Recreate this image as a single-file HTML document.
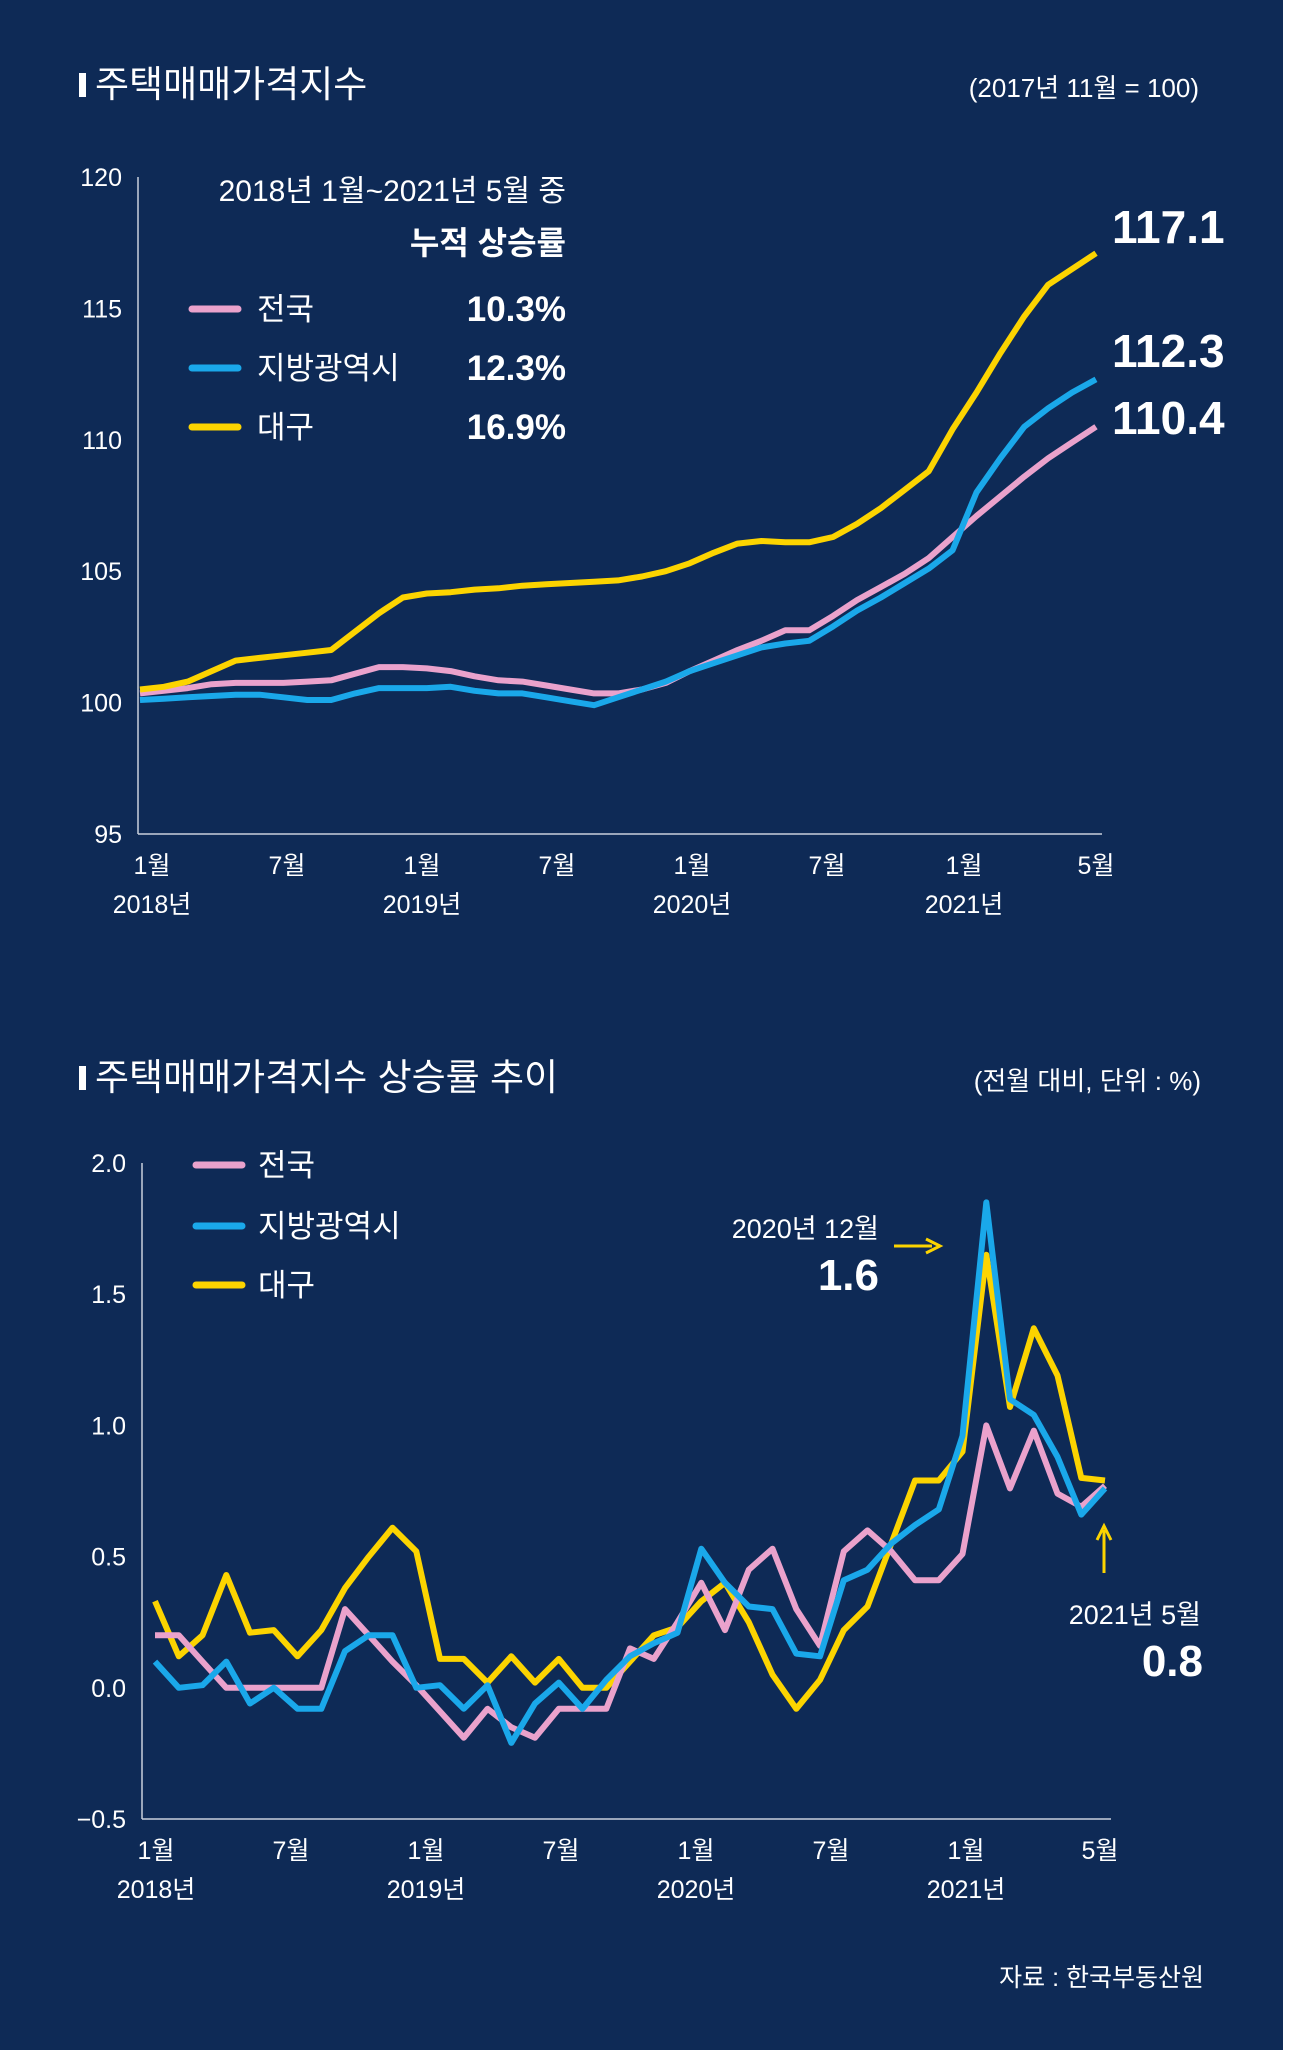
<!DOCTYPE html>
<html><head><meta charset="utf-8">
<style>
body{margin:0;background:#fff;width:1289px;height:2054px;overflow:hidden;font-family:"Liberation Sans","Noto Sans CJK KR",sans-serif;}
#bg{position:absolute;left:0;top:0;width:1283px;height:2050px;background:#0e2a56;}
svg{position:absolute;left:0;top:0;}
.nar{font-family:"Liberation Sans Narrow","Liberation Sans",sans-serif;}
</style></head>
<body>
<div id="bg"></div>
<svg id="c" width="1289" height="2054" font-family="Liberation Sans, Noto Sans CJK KR, sans-serif"></svg>
<script>
const months=41;
const topTicks=[95,100,105,110,115,120];
const topNational=[100.35,100.45,100.55,100.7,100.75,100.75,100.75,100.8,100.85,101.1,101.35,101.35,101.3,101.2,101.0,100.85,100.8,100.65,100.5,100.35,100.35,100.5,100.75,101.2,101.6,102.0,102.35,102.75,102.75,103.3,103.9,104.4,104.9,105.5,106.3,107.1,107.85,108.6,109.3,109.9,110.5];
const topMetro=[100.1,100.15,100.2,100.25,100.3,100.3,100.2,100.1,100.1,100.35,100.55,100.55,100.55,100.6,100.45,100.35,100.35,100.2,100.05,99.9,100.2,100.5,100.8,101.2,101.5,101.8,102.1,102.25,102.35,102.9,103.5,104.0,104.55,105.1,105.8,108.0,109.3,110.5,111.2,111.8,112.3];
const topDaegu=[100.5,100.6,100.8,101.2,101.6,101.7,101.8,101.9,102.0,102.7,103.4,104.0,104.15,104.2,104.3,104.35,104.45,104.5,104.55,104.6,104.65,104.8,105.0,105.3,105.7,106.05,106.15,106.1,106.1,106.3,106.8,107.4,108.1,108.8,110.4,111.8,113.3,114.7,115.9,116.5,117.1];
const botTicks=[-0.5,0.0,0.5,1.0,1.5,2.0];
const botNational=[0.2,0.2,0.1,0,0,0,0,0,0.3,0.2,0.1,0.01,-0.09,-0.19,-0.08,-0.15,-0.19,-0.08,-0.08,-0.08,0.15,0.11,0.25,0.4,0.22,0.45,0.53,0.3,0.16,0.52,0.6,0.52,0.41,0.41,0.51,1.0,0.76,0.98,0.74,0.69,0.77];
const botMetro=[0.1,0,0.01,0.1,-0.06,0,-0.08,-0.08,0.14,0.2,0.2,0.0,0.01,-0.08,0.01,-0.21,-0.06,0.02,-0.08,0.03,0.12,0.17,0.21,0.53,0.4,0.31,0.3,0.13,0.12,0.41,0.45,0.55,0.62,0.68,0.96,1.85,1.1,1.04,0.88,0.66,0.76];
const botDaegu=[0.33,0.12,0.2,0.43,0.21,0.22,0.12,0.22,0.38,0.5,0.61,0.52,0.11,0.11,0.02,0.12,0.02,0.11,0.0,0.0,0.1,0.2,0.23,0.33,0.4,0.25,0.05,-0.08,0.03,0.22,0.31,0.55,0.79,0.79,0.9,1.65,1.07,1.37,1.19,0.8,0.79];
const xMonthLabels=["1월","7월","1월","7월","1월","7월","1월","5월"];
const xYearLabels=["2018년","","2019년","","2020년","","2021년",""];
const xLabelMonths=[0,6,12,18,24,30,36,40];

const svg=document.getElementById('c');
const NS="http://www.w3.org/2000/svg";
function mk(tag,attrs,parent){const e=document.createElementNS(NS,tag);for(const k in attrs)e.setAttribute(k,attrs[k]);(parent||svg).appendChild(e);return e;}
function txt(x,y,s,size,anchor,weight,fill,name,cls){const t=mk('text',{x:x,y:y,'font-size':size,'text-anchor':anchor||'start','font-weight':weight||'normal',fill:fill||'#fff'});if(cls)t.setAttribute('class',cls);t.textContent=s;


return t;}

function chart(o){
 const xs=m=>o.x0+(o.x1-o.x0)*m/(months-1);
 const ys=v=>o.yTop+(o.yBot-o.yTop)*(o.vMax-v)/(o.vMax-o.vMin);
 const ax=mk('line',{x1:o.ax,y1:o.yTop,x2:o.ax,y2:o.yBot,stroke:'#c8cfdc','stroke-width':1.5});
 
 
 const bx=mk('line',{x1:o.ax,y1:o.yBot,x2:o.x1+6,y2:o.yBot,stroke:'#c8cfdc','stroke-width':1.5});
 
 
 o.ticks.forEach(v=>{txt(o.ax-16,ys(v)+9,o.fmt(v),25,'end','normal','#fff',o.p+'-y-tick');});
 xLabelMonths.forEach((m,i)=>{const x=o.lx[i];
  txt(x,o.yBot+40,xMonthLabels[i],25,'middle','normal','#fff',o.p+'-x-tick');
  if(xYearLabels[i])txt(x,o.yBot+79,xYearLabels[i],25,'middle','normal','#fff',o.p+'-x-year');});
 o.series.forEach(s=>{const d=s.v.map((v,i)=>(i?'L':'M')+xs(i).toFixed(1)+' '+ys(v).toFixed(1)).join(' ');
  const p=mk('path',{d:d,fill:'none',stroke:s.c,'stroke-width':6,'stroke-linejoin':'round'});
  
  });
 return {xs,ys};
}
const cols={nat:'#eaa2cc',met:'#1aa8ea',dae:'#fcd400'};
chart({p:'top',ax:138,x0:140,x1:1096,yTop:177,yBot:834,vMin:95,vMax:120,ticks:topTicks,fmt:v=>String(v),
 lx:[152,287,422,557,692,827,964,1096],
 series:[{n:'national',v:topNational,c:cols.nat},{n:'metro',v:topMetro,c:cols.met},{n:'daegu',v:topDaegu,c:cols.dae}]});
chart({p:'bottom',ax:142,x0:155,x1:1105,yTop:1163,yBot:1819,vMin:-0.5,vMax:2.0,ticks:botTicks,fmt:v=>v<0?'−'+Math.abs(v).toFixed(1):v.toFixed(1),
 lx:[156,291,426,561,696,831,966,1100],
 series:[{n:'daegu',v:botDaegu,c:cols.dae},{n:'national',v:botNational,c:cols.nat},{n:'metro',v:botMetro,c:cols.met}]});

function bar(x,y,name){const r=mk('rect',{x:x,y:y,width:7,height:24,fill:'#fff'});}
bar(79,73,'title-marker');
txt(95,97,'주택매매가격지수',37,'start','normal','#fff','top-title');
txt(1199,97,'(2017년 11월 = 100)',26,'end','normal','#fff','top-unit');
bar(79,1066,'title-marker-2');
txt(95,1090,'주택매매가격지수 상승률 추이',37,'start','normal','#fff','bottom-title');
txt(1201,1090,'(전월 대비, 단위 : %)',26,'end','normal','#fff','bottom-unit');
txt(566,201,'2018년 1월~2021년 5월 중',30,'end','normal','#fff','legend-caption');
txt(566,254,'누적 상승률',32,'end','bold','#fff','legend-header');
const lg=[['전국','10.3%',cols.nat,309],['지방광역시','12.3%',cols.met,368],['대구','16.9%',cols.dae,427]];
lg.forEach(l=>{const s=mk('line',{x1:192,y1:l[3],x2:238,y2:l[3],stroke:l[2],'stroke-width':7,'stroke-linecap':'round'});
 
 
 txt(257,l[3]+11,l[0],31,'start','normal','#fff','legend-label');
 txt(566,l[3]+12,l[1],35,'end','bold','#fff','legend-value','nar');});
txt(1112,243,'117.1',46,'start','bold','#fff','end-label-daegu','nar');
txt(1112,367,'112.3',46,'start','bold','#fff','end-label-metro','nar');
txt(1112,434,'110.4',46,'start','bold','#fff','end-label-national','nar');
[['전국',cols.nat,1165],['지방광역시',cols.met,1226],['대구',cols.dae,1285]].forEach(l=>{
 const s=mk('line',{x1:196,y1:l[2],x2:242,y2:l[2],stroke:l[1],'stroke-width':7,'stroke-linecap':'round'});
 
 
 txt(258,l[2]+11,l[0],31,'start','normal','#fff','legend-label');});
txt(879,1238,'2020년 12월',27,'end','normal','#fff','annotation-dec-2020');
txt(879,1290,'1.6',44,'end','bold','#fff','annotation-dec-2020-value','nar');
let a=mk('path',{d:'M894 1246 L932 1246 M926 1239 L940 1246 L926 1253',stroke:cols.dae,'stroke-width':3,fill:'none'});

a=mk('path',{d:'M1104 1573 L1104 1530 M1097 1540 L1104 1526 L1111 1540',stroke:cols.dae,'stroke-width':3,fill:'none'});

txt(1201,1624,'2021년 5월',27,'end','normal','#fff','annotation-may-2021');
txt(1203,1676,'0.8',44,'end','bold','#fff','annotation-may-2021-value','nar');
txt(1204,1986,'자료 : 한국부동산원',25,'end','normal','#fff','source-note');
</script>
</body></html>
